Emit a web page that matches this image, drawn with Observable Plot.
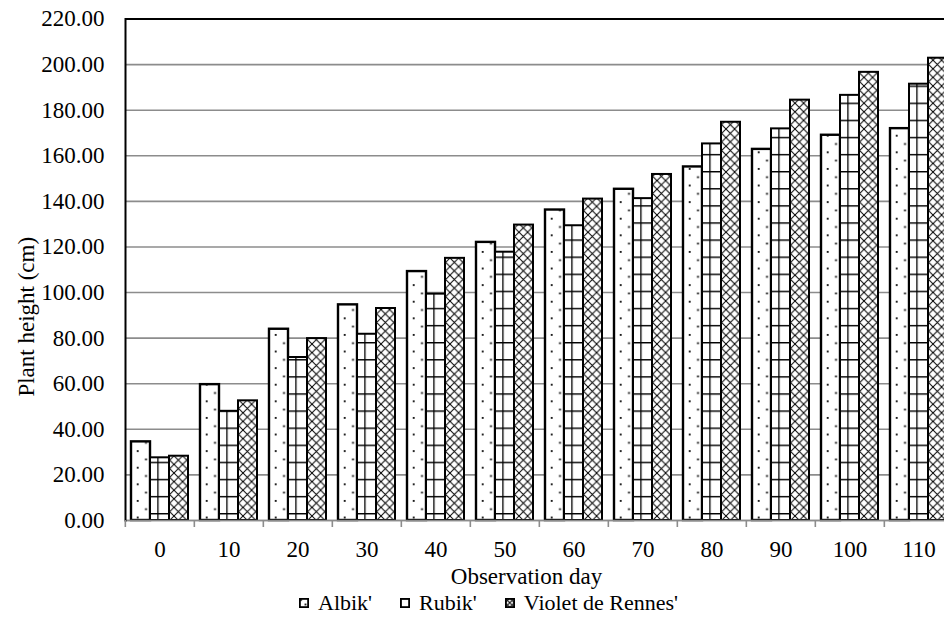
<!DOCTYPE html>
<html>
<head>
<meta charset="utf-8">
<script src="https://cdn.jsdelivr.net/npm/d3@7"></script>
<script src="https://cdn.jsdelivr.net/npm/@observablehq/plot@0.6"></script>
<style>
  html, body { margin: 0; padding: 0; background: #fff; overflow: hidden; width: 944px; height: 623px; }
  #chart { position: relative; width: 944px; overflow: hidden; }
  #legend { display: flex; align-items: center; height: 26px; padding-left: 299px;
            font-family: "Liberation Serif", Tinos, "Times New Roman", "DejaVu Serif", "Noto Serif", serif;
            font-size: 22px; color: #000; white-space: nowrap; }
  .item { display: flex; align-items: center; margin-right: 28px; }
  .item svg { margin-right: 9px; display: block; }
  #chart svg text { font-family: "Liberation Serif", Tinos, "Times New Roman", "DejaVu Serif", "Noto Serif", serif; }
</style>
</head>
<body>
<div id="chart"></div>
<div id="legend"></div>
<script>
// ---- data ----
const days = [0, 10, 20, 30, 40, 50, 60, 70, 80, 90, 100, 110];
const varieties = ["Albik'", "Rubik'", "Violet de Rennes'"];
const albik  = [34.5, 59.6, 83.9, 94.6, 109.2, 122.0, 136.2, 145.3, 155.1, 162.8, 169.0, 171.9];
const rubik  = [27.5, 47.9, 71.5, 81.7,  99.3, 117.7, 129.3, 141.2, 165.2, 171.8, 186.5, 191.4];
const violet = [28.2, 52.5, 79.8, 93.0, 115.0, 129.6, 141.0, 151.8, 174.7, 184.4, 196.6, 202.8];
const yTicks = [0, 20, 40, 60, 80, 100, 120, 140, 160, 180, 200, 220];
const yLabel = "Plant height (cm)";
const xLabel = "Observation day";

const series = [albik, rubik, violet];
const patternIds = ["pat-dots", "pat-grid", "pat-cross"];
const rows = days.flatMap((day, i) => varieties.map((variety, j) => ({day, variety, height: series[j][i]})));

const W = 970, H = 590, ML = 123, MR = 15, MT = 18.5, MB = 70;
const step = (W - ML - MR) / days.length;
const gray = "#8c8c8c";
const font = "'Liberation Serif', Tinos, 'Times New Roman', 'DejaVu Serif', 'Noto Serif', serif";

const barMarks = varieties.map((v, j) =>
  Plot.barY(rows.filter(d => d.variety === v), {
    fx: "day", x: "variety", y: "height",
    fill: `url(#${patternIds[j]})`, stroke: "black", strokeWidth: j === 0 ? 2.4 : 2
  })
);

const svg = Plot.plot({
  width: W, height: H,
  marginLeft: ML, marginRight: MR, marginTop: MT, marginBottom: MB,
  style: `font-family: ${font}; font-size: 23px; color: #000; background: #fff; max-width: none; overflow: visible;`,
  fx: {domain: days, padding: 0},
  x: {domain: varieties, paddingInner: 0, paddingOuter: 0.24, axis: null},
  y: {domain: [0, 220]},
  marks: [
    Plot.gridY(yTicks, {stroke: gray, strokeOpacity: 1, strokeWidth: 1.6}),
    ...barMarks,
    Plot.ruleY([0], {stroke: gray, strokeWidth: 1.6}),
    Plot.ruleY([220], {stroke: "black", strokeWidth: 2}),
    Plot.frame({anchor: "left", facetAnchor: "left", stroke: "black", strokeWidth: 2}),
    Plot.axisY({ticks: yTicks, tickFormat: d3.format(".2f"), tickSize: 0, tickPadding: 21, label: null, fontFamily: font}),
    Plot.axisFx({anchor: "bottom", tickSize: 7, fill: "none", stroke: gray, strokeWidth: 1.6, dx: -step / 2, label: null}),
    Plot.axisFx({anchor: "bottom", tickSize: 0, tickPadding: 20, label: null, fontFamily: font}),
    Plot.text([yLabel], {facetAnchor: "left", frameAnchor: "left", textAnchor: "middle", lineAnchor: "middle",
                         rotate: -90, dx: -99, dy: 47, fill: "black", fontFamily: font}),
    Plot.text([xLabel], {facet: "super", frameAnchor: "bottom", textAnchor: "middle", lineAnchor: "middle",
                         dx: -13, dy: 56, fill: "black", fontFamily: font})
  ]
});

// hatch patterns
const defs = d3.select(svg).insert("defs", ":first-child");
function addPatterns(defs, prefix, s) {
  const d = defs.append("pattern").attr("id", prefix + "dots").attr("patternUnits", "userSpaceOnUse")
    .attr("width", 16.6 * s).attr("height", 16.6 * s);
  d.append("rect").attr("width", 16.6 * s).attr("height", 16.6 * s).attr("fill", "white");
  d.append("rect").attr("x", 2 * s).attr("y", 2 * s).attr("width", 1.8).attr("height", 1.8).attr("fill", "black");
  d.append("rect").attr("x", 10.3 * s).attr("y", 10.3 * s).attr("width", 1.8).attr("height", 1.8).attr("fill", "black");

  const g = defs.append("pattern").attr("id", prefix + "grid").attr("patternUnits", "userSpaceOnUse")
    .attr("width", 17.25 * s).attr("height", 17.1 * s);
  g.append("rect").attr("width", 17.25 * s).attr("height", 17.1 * s).attr("fill", "white");
  g.append("path").attr("d", `M0 0.7H${17.25 * s} M0.7 0V${17.1 * s}`).attr("stroke", "black").attr("stroke-width", 1.3);

  const c = defs.append("pattern").attr("id", prefix + "cross").attr("patternUnits", "userSpaceOnUse")
    .attr("width", 8.6 * s).attr("height", 8.6 * s);
  c.append("rect").attr("width", 8.6 * s).attr("height", 8.6 * s).attr("fill", "white");
  const P = 8.6 * s;
  c.append("path").attr("d", `M-1 -1L${P + 1} ${P + 1}M${P + 1} -1L-1 ${P + 1}`).attr("stroke", "black").attr("stroke-width", 1);
}
addPatterns(defs, "pat-", 1);

document.getElementById("chart").appendChild(svg);

// legend
const legend = d3.select("#legend");
const legPatterns = ["leg-dots", "leg-grid", "leg-cross"];
varieties.forEach((v, j) => {
  const item = legend.append("div").attr("class", "item");
  const s = item.append("svg").attr("width", 10).attr("height", 10);
  if (j === 0) {
    const ld = s.append("defs");
    addPatterns(ld, "leg-", 0.55);
  }
  s.append("rect").attr("x", 0.9).attr("y", 0.9).attr("width", 8.2).attr("height", 8.2)
    .attr("fill", `url(#${legPatterns[j]})`).attr("stroke", "black").attr("stroke-width", 1.8);
  item.append("span").text(v);
});
</script>
</body>
</html>
